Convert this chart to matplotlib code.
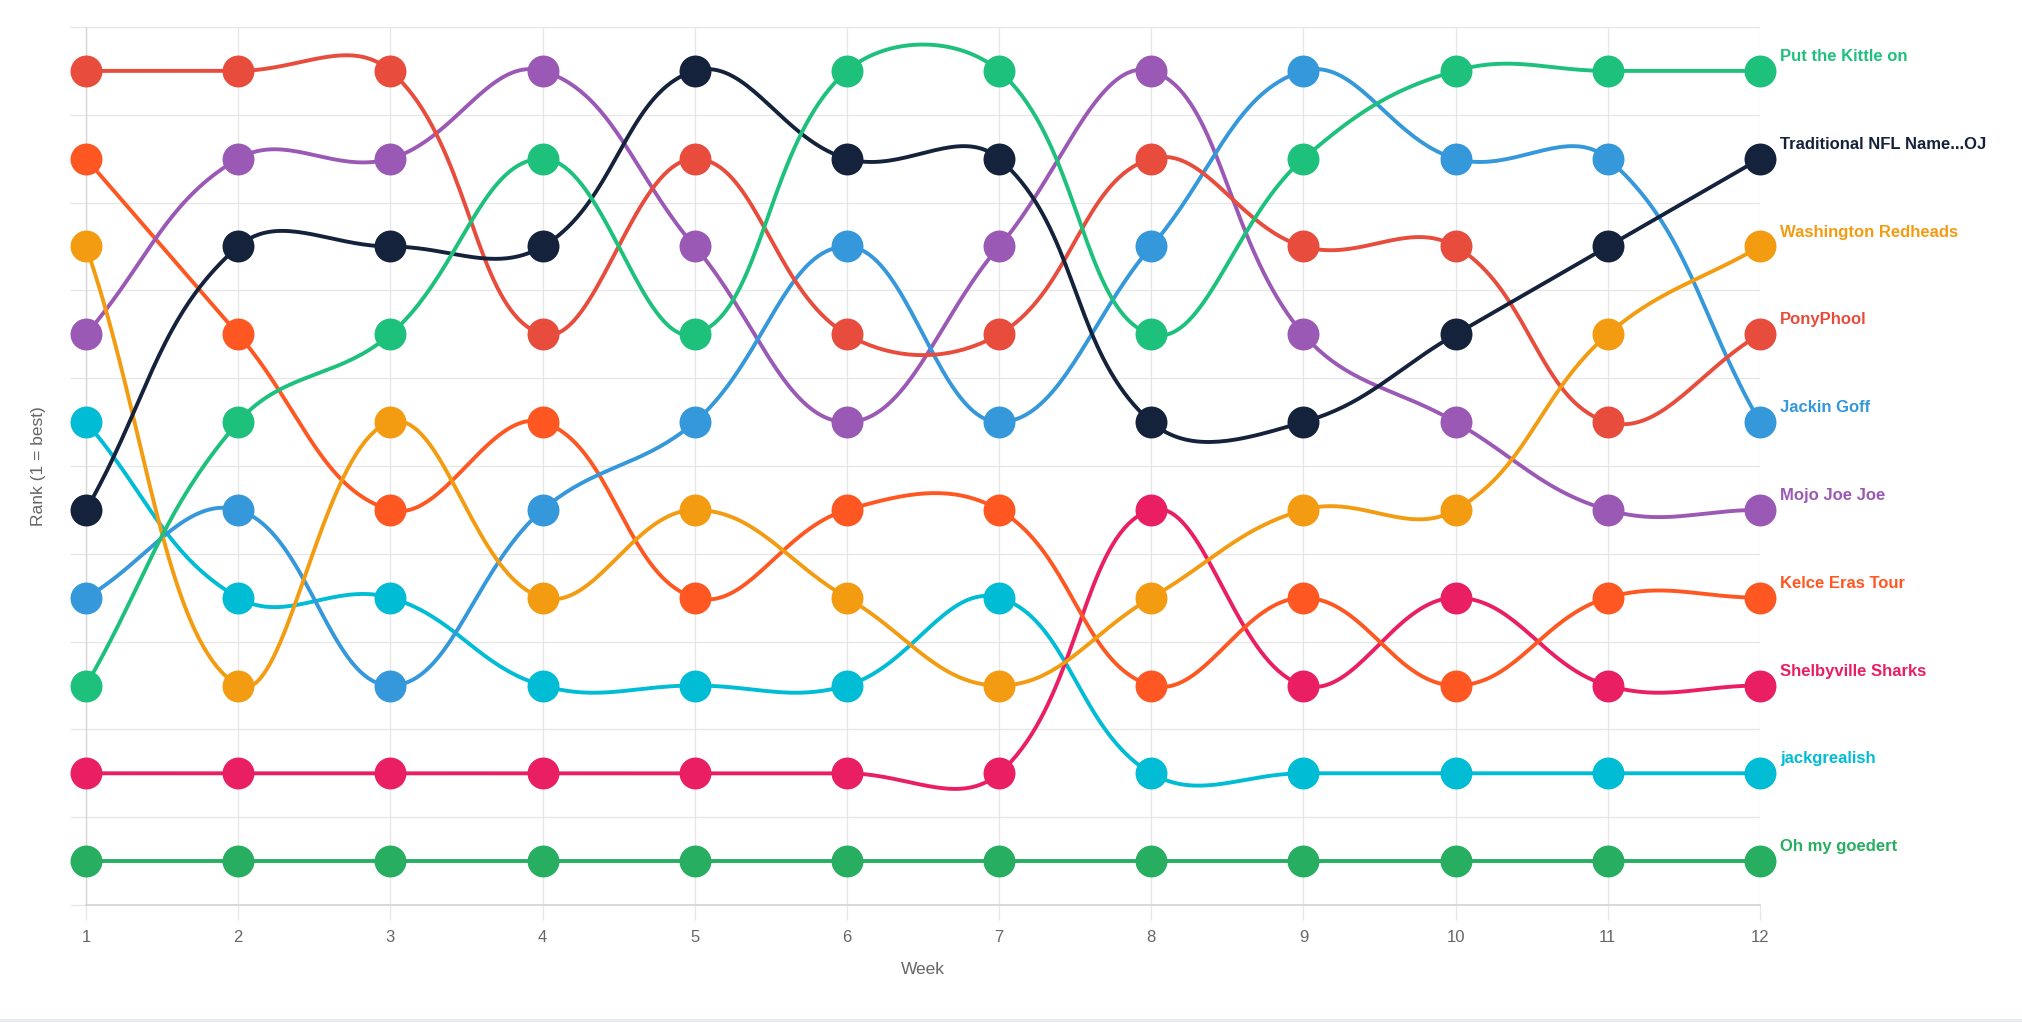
import matplotlib
matplotlib.use("Agg")
import matplotlib.pyplot as plt
from matplotlib.patches import Rectangle
import numpy as np

plt.rcParams['font.family'] = ['Liberation Sans', 'DejaVu Sans']

# data ------------------------------------------------------------------------
weeks = list(range(1, 13))

put_the_kittle_on = [8, 5, 4, 2, 4, 1, 1, 4, 2, 1, 1, 1]
traditional_nfl = [6, 3, 3, 3, 1, 2, 2, 5, 5, 4, 3, 2]
washington_redheads = [3, 8, 5, 7, 6, 7, 8, 7, 6, 6, 4, 3]
ponyphool = [1, 1, 1, 4, 2, 4, 4, 2, 3, 3, 5, 4]
jackin_goff = [7, 6, 8, 6, 5, 3, 5, 3, 1, 2, 2, 5]
mojo_joe_joe = [4, 2, 2, 1, 3, 5, 3, 1, 4, 5, 6, 6]
kelce_eras_tour = [2, 4, 6, 5, 7, 6, 6, 8, 7, 8, 7, 7]
shelbyville_sharks = [9, 9, 9, 9, 9, 9, 9, 6, 8, 7, 8, 8]
jackgrealish = [5, 7, 7, 8, 8, 8, 7, 9, 9, 9, 9, 9]
oh_my_goedert = [10, 10, 10, 10, 10, 10, 10, 10, 10, 10, 10, 10]

team_names = ['Put the Kittle on', 'Traditional NFL Name...OJ', 'Washington Redheads',
              'PonyPhool', 'Jackin Goff', 'Mojo Joe Joe', 'Kelce Eras Tour',
              'Shelbyville Sharks', 'jackgrealish', 'Oh my goedert']
team_ranks = [put_the_kittle_on, traditional_nfl, washington_redheads, ponyphool,
              jackin_goff, mojo_joe_joe, kelce_eras_tour, shelbyville_sharks,
              jackgrealish, oh_my_goedert]
team_colors = ['#1dc17c', '#15223b', '#f39c12', '#e74c3c', '#3498db',
               '#9b59b6', '#ff5722', '#e91e63', '#00bcd4', '#27ae60']

GRID = '#e6e6e6'
TEXT = '#666666'


def smooth_curve(ax, xs, ys, tension=0.4, n=40):
    # chart.js style cardinal spline, computed in pixel space
    pts = ax.transData.transform(np.column_stack([xs, ys]))
    k = len(pts)
    cp_in = np.zeros_like(pts)
    cp_out = np.zeros_like(pts)
    for i in range(k):
        prev = pts[i - 1] if i > 0 else pts[i]
        nxt = pts[i + 1] if i < k - 1 else pts[i]
        d01 = np.hypot(*(pts[i] - prev))
        d12 = np.hypot(*(nxt - pts[i]))
        tot = d01 + d12
        s01 = d01 / tot if tot else 0
        s12 = d12 / tot if tot else 0
        cp_in[i] = pts[i] - tension * s01 * (nxt - prev)
        cp_out[i] = pts[i] + tension * s12 * (nxt - prev)
    t = np.linspace(0, 1, n)[:, None]
    segs = [pts[:1]]
    for i in range(k - 1):
        p0, p1, p2, p3 = pts[i], cp_out[i], cp_in[i + 1], pts[i + 1]
        b = ((1 - t) ** 3 * p0 + 3 * (1 - t) ** 2 * t * p1
             + 3 * (1 - t) * t ** 2 * p2 + t ** 3 * p3)
        segs.append(b[1:])
    curve = np.vstack(segs)
    data = ax.transData.inverted().transform(curve)
    return data[:, 0], data[:, 1]


fig = plt.figure(figsize=(20.22, 10.22), dpi=100)
ax = fig.add_axes([86 / 2022, 117 / 1022, (1760 - 86) / 2022, (905 - 27) / 1022])
ax.set_xlim(1, 12)
ax.set_ylim(10.5, 0.5)

ax.set_xticks(weeks)
ax.set_xticklabels([str(w) for w in weeks])
ax.set_yticks(np.arange(0.5, 11, 1))
ax.set_yticklabels([])
ax.tick_params(axis='x', length=11, width=0.9, color=GRID, labelsize=12,
               labelcolor=TEXT, pad=7)
ax.tick_params(axis='y', length=11.5, width=0.9, color=GRID)
ax.grid(True, color=GRID, linewidth=0.9)
ax.set_axisbelow(True)
for s in ['top', 'right']:
    ax.spines[s].set_visible(False)
ax.spines['left'].set_color('#d6d6d6')
ax.spines['bottom'].set_color('#d3d3d3')
ax.spines['left'].set_linewidth(1.0)
ax.spines['bottom'].set_linewidth(1.2)

n_teams = len(team_names)
for idx, (name, ranks, color) in enumerate(zip(team_names, team_ranks, team_colors)):
    z = 10 + (n_teams - idx) * 2
    cx, cy = smooth_curve(ax, weeks, ranks)
    ax.plot(cx, cy, color=color, linewidth=2.8, zorder=z, solid_capstyle='round')
    ax.plot(weeks, ranks, 'o', color=color, markersize=23, markeredgewidth=0,
            zorder=z + 1, clip_on=False)
    ax.annotate(name, xy=(weeks[-1], ranks[-1]), xytext=(14.4, 10.4),
                textcoords='offset points', ha='left', va='center',
                fontsize=12, fontweight='bold', color=color,
                annotation_clip=False)

fig.text(38 / 2022, 1 - 466 / 1022, 'Rank (1 = best)', rotation=90,
         ha='center', va='center', fontsize=12.5, color=TEXT)
fig.text(923 / 2022, 1 - 969 / 1022, 'Week', ha='center', va='center',
         fontsize=12.5, color=TEXT)

fig.add_artist(Rectangle((0, 0), 1, 3 / 1022, transform=fig.transFigure,
                         facecolor='#e9ebee', edgecolor='none'))

fig.savefig('out.png', dpi=100, facecolor='white')
